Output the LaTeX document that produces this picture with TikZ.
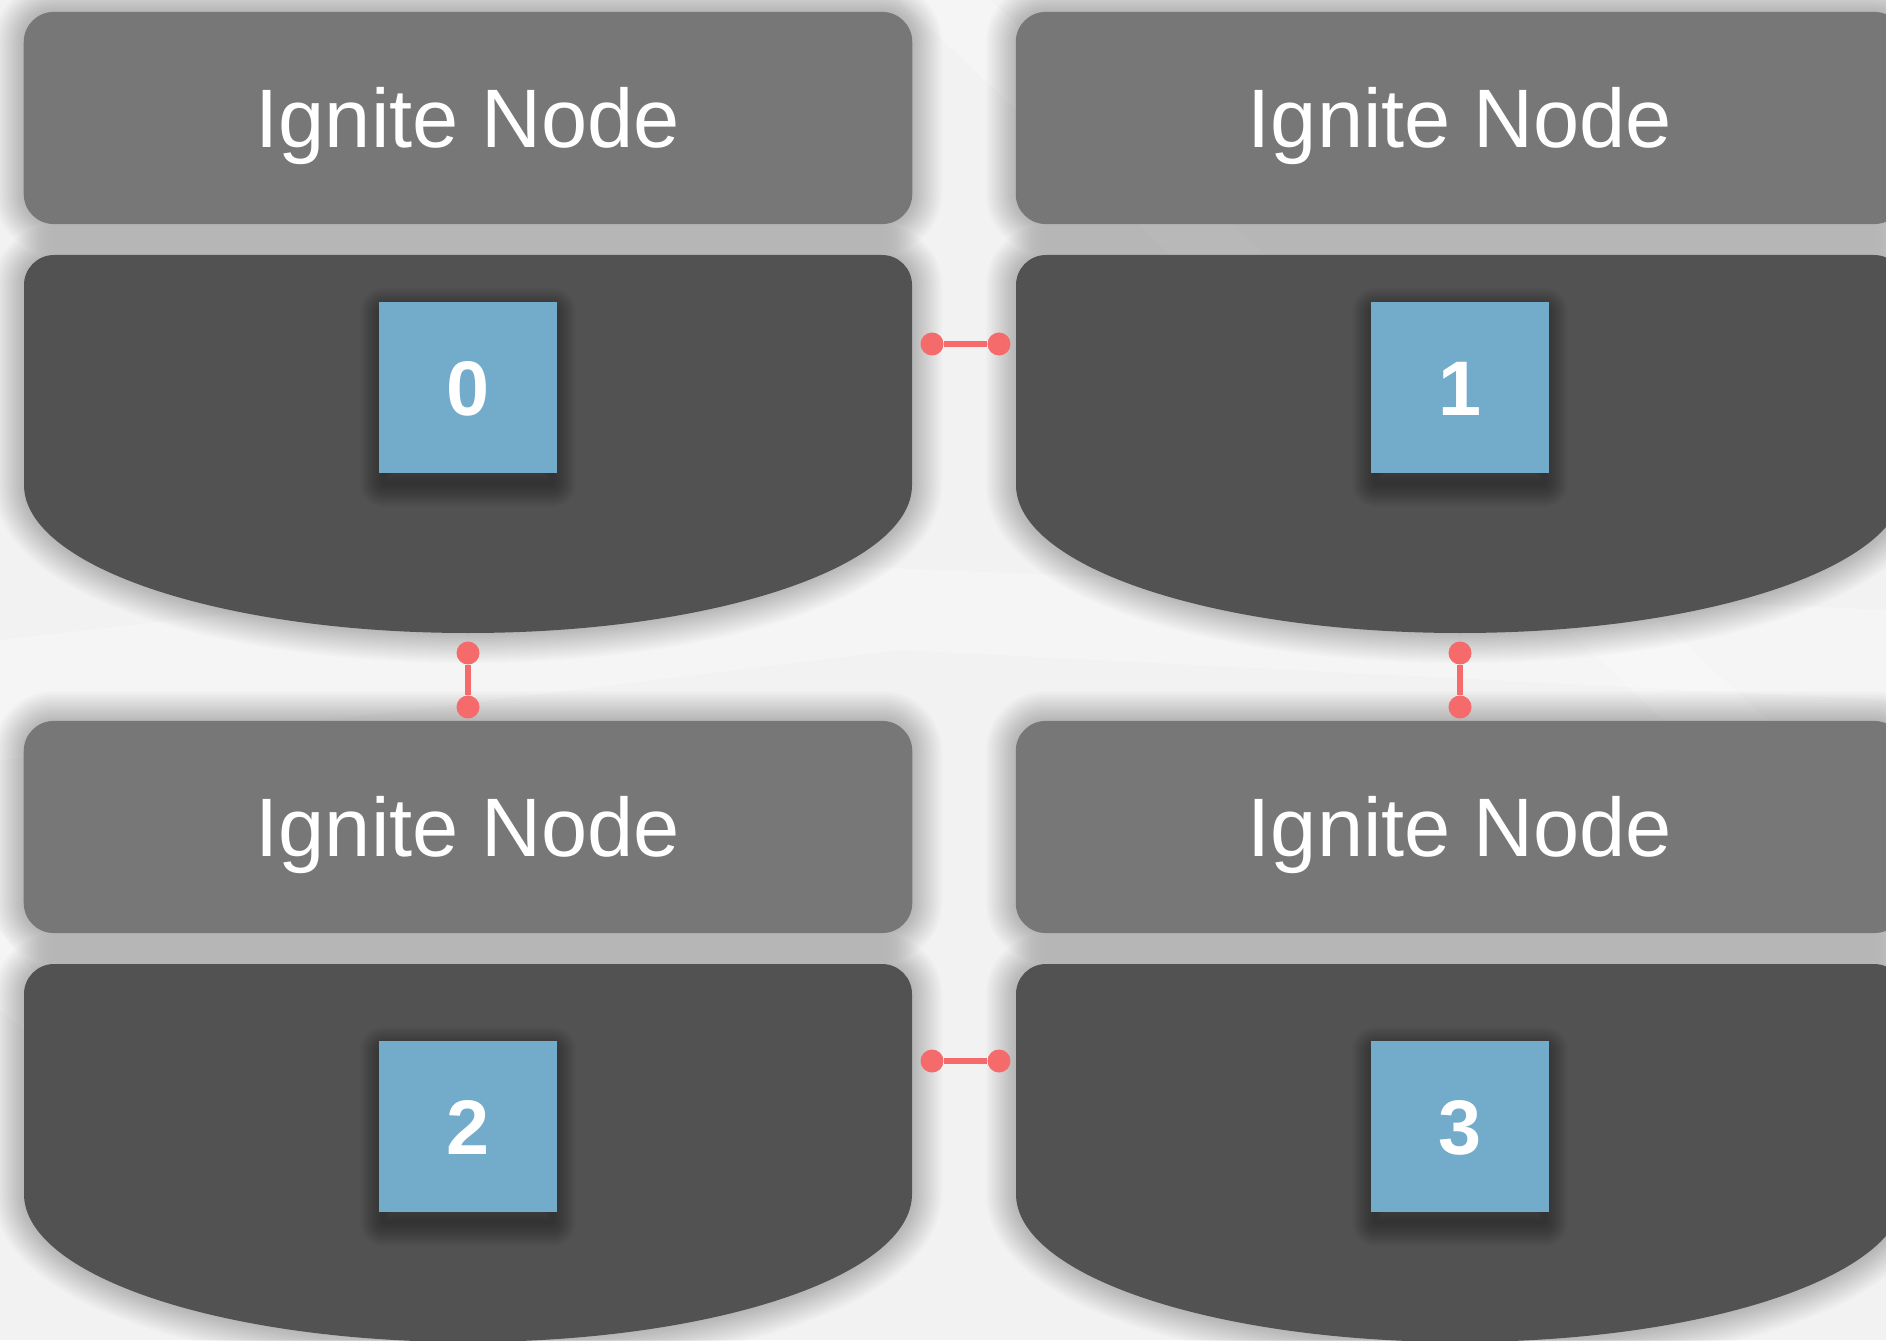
\documentclass[tikz,border=0pt]{standalone}
\usepackage{fontspec}
\setmainfont{Liberation Sans}
\definecolor{bgc}{HTML}{F2F2F2}
\definecolor{headc}{HTML}{777777}
\definecolor{bodyc}{HTML}{525252}
\definecolor{bluec}{HTML}{73ACCB}
\definecolor{redc}{HTML}{F56A6A}
\tikzset{
  header/.style={fill=headc, rounded corners=0.3cm, minimum width=8.88cm, minimum height=2.12cm,
    inner sep=0pt, text=white, font=\fontsize{23.6}{27}\selectfont, text height=16.9pt, text depth=0pt},
  bodyfill/.style={fill=bodyc},
  part/.style={fill=bluec, minimum width=1.77cm, minimum height=1.71cm, inner sep=0pt, text=white,
    font=\fontsize{22}{26}\selectfont\bfseries, text height=15.9pt, text depth=0pt},
  dot/.style={circle, fill=redc, inner sep=0pt, minimum size=0.23cm},
  conn/.style={draw=redc, line width=1.8pt}
}
\newcommand\softshadow[1]{\foreach \w [evaluate=\w as \lw using \w*0.01] in {4,8,...,60}{\draw[black, draw opacity=0.014, line width=\lw cm, line join=round] #1;}}
\newcommand\sqshadow{%
  \foreach \w [evaluate=\w as \lw using \w*0.01] in {4,8,...,48}{\draw[black, draw opacity=0.03, line width=\lw cm, line join=round] (-84,-75.5) rectangle (84,95.5);}}
\newcommand\bodyshape{(0,230) -- (0,145) [rounded corners=0.3cm] -- (0,0) -- (888,0) -- (888,145) [sharp corners] -- (888,230) .. controls (888,312) and (689,378) .. (444,378) .. controls (199,378) and (0,312) .. (0,230) -- cycle}
\begin{document}
\begin{tikzpicture}[x=0.01cm,y=-0.01cm]
\useasboundingbox (0,0) rectangle (1886,1340);
\clip (0,0) rectangle (1886,1340);
\fill[bgc] (0,0) rectangle (1886,1340);
% faint background shapes
\fill[white, opacity=0.3] (900,0) -- (990,0) -- (1886,830) -- (1886,930) -- cycle;
\fill[white, opacity=0.25] (0,640) -- (700,560) -- (1886,610) -- (1886,700) -- (900,650) -- (0,760) -- cycle;
\fill[white, opacity=0.25] (0,930) -- (0,1010) -- (420,1340) -- (330,1340) -- cycle;

% ---------- cell 0 ----------
\begin{scope}[shift={(24,12)}]
  \softshadow{[rounded corners=0.3cm] (0,0) rectangle (888,212)}
  \node[header] (hd0) at (444,106) {Ignite Node};
\end{scope}
\begin{scope}[shift={(24,255)}]
  \softshadow{\bodyshape}
  \path[bodyfill] \bodyshape;
\end{scope}
\begin{scope}[shift={(468,387.5)}]
  \sqshadow
  \node[part] (p0) at (0,0) {0};
\end{scope}

% ---------- cell 1 ----------
\begin{scope}[shift={(1016,12)}]
  \softshadow{[rounded corners=0.3cm] (0,0) rectangle (888,212)}
  \node[header] (hd1) at (444,106) {Ignite Node};
\end{scope}
\begin{scope}[shift={(1016,255)}]
  \softshadow{\bodyshape}
  \path[bodyfill] \bodyshape;
\end{scope}
\begin{scope}[shift={(1460,387.5)}]
  \sqshadow
  \node[part] (p1) at (0,0) {1};
\end{scope}

% ---------- cell 2 ----------
\begin{scope}[shift={(24,721)}]
  \softshadow{[rounded corners=0.3cm] (0,0) rectangle (888,212)}
  \node[header] (hd2) at (444,106) {Ignite Node};
\end{scope}
\begin{scope}[shift={(24,964)}]
  \softshadow{\bodyshape}
  \path[bodyfill] \bodyshape;
\end{scope}
\begin{scope}[shift={(468,1126.5)}]
  \sqshadow
  \node[part] (p2) at (0,0) {2};
\end{scope}

% ---------- cell 3 ----------
\begin{scope}[shift={(1016,721)}]
  \softshadow{[rounded corners=0.3cm] (0,0) rectangle (888,212)}
  \node[header] (hd3) at (444,106) {Ignite Node};
\end{scope}
\begin{scope}[shift={(1016,964)}]
  \softshadow{\bodyshape}
  \path[bodyfill] \bodyshape;
\end{scope}
\begin{scope}[shift={(1460,1126.5)}]
  \sqshadow
  \node[part] (p3) at (0,0) {3};
\end{scope}

% connectors
\node[dot] (a1) at (932,344) {};
\node[dot] (a2) at (999,344) {};
\draw[conn] (a1) -- (a2);
\node[dot] (b1) at (932,1061) {};
\node[dot] (b2) at (999,1061) {};
\draw[conn] (b1) -- (b2);
\node[dot] (c1) at (468,653) {};
\node[dot] (c2) at (468,707) {};
\draw[conn] (c1) -- (c2);
\node[dot] (d1) at (1460,653) {};
\node[dot] (d2) at (1460,707) {};
\draw[conn] (d1) -- (d2);
\end{tikzpicture}
\end{document}
